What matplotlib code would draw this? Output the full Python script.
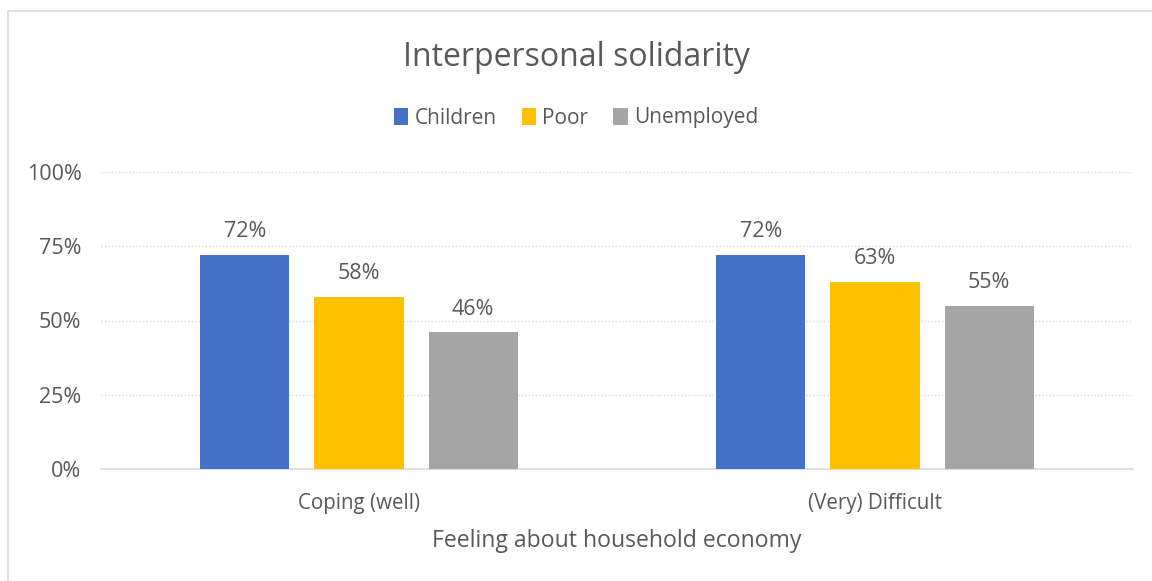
import matplotlib.pyplot as plt
import numpy as np
from matplotlib.patches import Rectangle

categories = ["Coping (well)", "(Very) Difficult"]
series_names = ["Children", "Poor", "Unemployed"]
children = [72, 72]
poor = [58, 63]
unemployed = [46, 55]
colors = ["#4472C4", "#FFC000", "#A5A5A5"]

plt.rcParams["font.family"] = ["Open Sans", "DejaVu Sans"]
text_color = "#595959"

fig = plt.figure(figsize=(11.52, 5.81), dpi=100)
# chart area border
fig.patches.append(Rectangle((8 / 1152, -0.1), 1.2, (581 - 11) / 581 + 0.1,
                             transform=fig.transFigure, fill=False,
                             edgecolor="#D9D9D9", linewidth=1.2))

ax = fig.add_axes([101 / 1152, 1 - 469 / 581, (1133 - 101) / 1152, (469 - 172) / 581])

x = np.arange(len(categories))
width = 0.1725
step = 0.221
for i, (name, vals) in enumerate(zip(series_names, [children, poor, unemployed])):
    pos = x + (i - 1) * step
    bars = ax.bar(pos, vals, width, color=colors[i], label=name, zorder=3)
    for b, v in zip(bars, vals):
        ax.text(b.get_x() + b.get_width() / 2, v + 4.3, f"{v}%", ha="center",
                va="bottom", fontsize=15.5, color=text_color)

ax.set_xlim(-0.5, 1.5)
ax.set_ylim(0, 100)
ax.set_yticks([0, 25, 50, 75, 100])
ax.set_yticklabels([f"{t}%" for t in [0, 25, 50, 75, 100]])
ax.set_xticks(x)
ax.set_xticklabels(categories)
ax.tick_params(length=0, labelcolor=text_color)
ax.tick_params(axis="y", pad=14, labelsize=15.5)
ax.tick_params(axis="x", pad=17, labelsize=14.8)
ax.grid(axis="y", linestyle=(0, (1, 1.5)), color="#D9D9D9", linewidth=1, zorder=0)
for s in ["top", "right", "left"]:
    ax.spines[s].set_visible(False)
ax.spines["bottom"].set_color("#D9D9D9")
ax.spines["bottom"].set_linewidth(1.2)
ax.set_xlabel("Feeling about household economy", fontsize=16.6, color=text_color, labelpad=11)

fig.text(0.5, 1 - 57 / 581, "Interpersonal solidarity", ha="center", va="center",
         fontsize=23, color=text_color)
fig.legend(loc="center", bbox_to_anchor=(0.5, 1 - 118 / 581), ncol=3, frameon=False,
           fontsize=15, labelcolor=text_color, handlelength=0.7, handleheight=0.9,
           handletextpad=0.3, columnspacing=1.2)

fig.savefig("out.png", dpi=100)
